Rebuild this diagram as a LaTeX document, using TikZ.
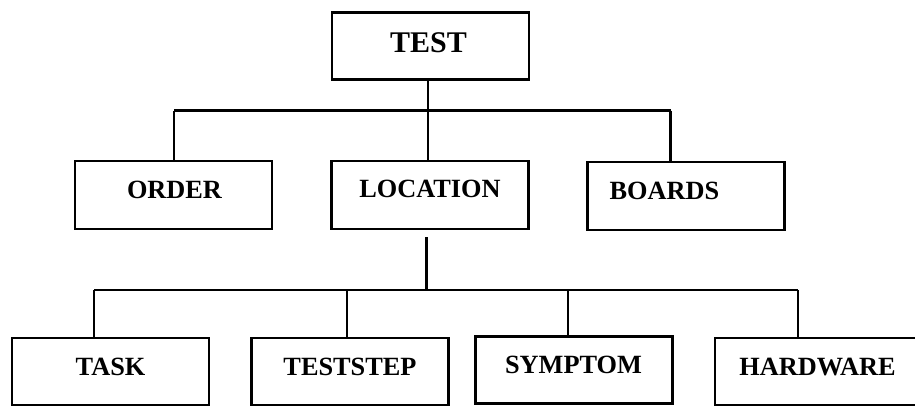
\documentclass[tikz,border=0pt]{standalone}
\usepackage{fontspec}
\setmainfont{Liberation Serif}
\begin{document}
\begin{tikzpicture}[x=1pt,y=-1pt,
  box/.style={draw=black,line width=2.7pt,minimum width=197pt,minimum height=67pt,inner sep=0pt},
  lbl/.style={anchor=base,inner sep=0pt,font=\fontsize{26.3}{30}\selectfont\bfseries},
  toplbl/.style={anchor=base,inner sep=0pt,font=\fontsize{30}{34}\selectfont\bfseries},
  wire/.style={line width=2.4pt,black}]
\useasboundingbox (0,0) rectangle (915,406);

% top level
\node[box] (test) at (430.5,46.3) {};
\node[toplbl] (testT) at (428.5,53) {TEST};

% second level
\node[box,minimum height=68pt] (order) at (173.5,195) {};
\node[lbl] (orderT) at (174.5,198) {ORDER};
\node[box,minimum height=68pt] (location) at (430,195) {};
\node[lbl] (locationT) at (430,197) {LOCATION};
\node[box,minimum height=68pt] (boards) at (686,196) {};
\node[lbl] (boardsT) at (664.5,200) {BOARDS};

% third level
\node[box] (task) at (110.5,371.5) {};
\node[lbl] (taskT) at (110.5,375) {TASK};
\node[box] (teststep) at (350,371.5) {};
\node[lbl] (teststepT) at (350,375) {TESTSTEP};
\node[box] (symptom) at (574,370.3) {};
\node[lbl] (symptomT) at (573.5,373) {SYMPTOM};
% this box runs off the right edge of the page
\node[box,minimum width=220pt] (hardware) at (825,371.5) {};
\node[lbl] (hardwareT) at (817.5,375) {HARDWARE};

% upper bus
\coordinate (busAL) at (174,110.7);
\coordinate (busAR) at (670.5,110.7);
\coordinate (busAM) at (427.7,110.7);
\draw[wire] (busAL) -- (busAR);
\draw[wire] (test.south -| busAM) -- (location.north -| busAM);
\draw[wire] (busAL) -- (busAL |- order.north);
\draw[wire] (busAR) -- (busAR |- boards.north);

% lower bus
\coordinate (stub) at (426.5,237);
\coordinate (busBM) at (426.5,290);
\coordinate (busB1) at (94,290);
\coordinate (busB2) at (346.7,290);
\coordinate (busB3) at (568,290);
\coordinate (busB4) at (798,290);
\draw[wire] (stub) -- (busBM);
\draw[wire] (busB1) -- (busB4);
\draw[wire] (busB1) -- (busB1 |- task.north);
\draw[wire] (busB2) -- (busB2 |- teststep.north);
\draw[wire] (busB3) -- (busB3 |- symptom.north);
\draw[wire] (busB4) -- (busB4 |- hardware.north);
\end{tikzpicture}
\end{document}
